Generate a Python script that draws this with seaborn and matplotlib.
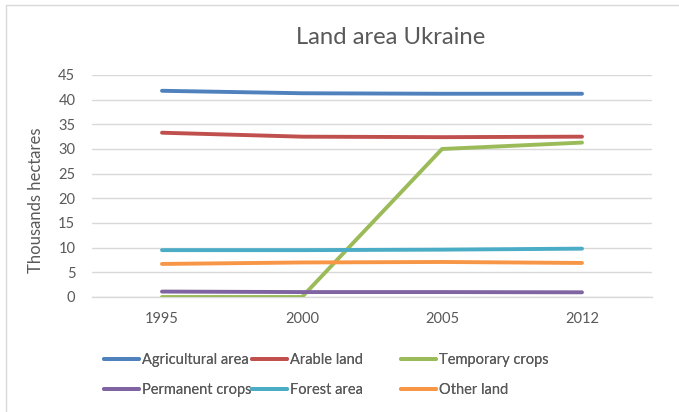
import matplotlib
matplotlib.use("Agg")
import matplotlib.pyplot as plt
import seaborn as sns
import pandas as pd
from matplotlib.lines import Line2D

years = ["1995", "2000", "2005", "2012"]
agricultural_area = [41.8, 41.3, 41.2, 41.2]
arable_land = [33.3, 32.5, 32.4, 32.5]
temporary_crops = [0.0, 0.0, 30.0, 31.3]
permanent_crops = [1.1, 1.0, 1.0, 0.95]
forest_area = [9.5, 9.5, 9.6, 9.8]
other_land = [6.7, 7.0, 7.1, 6.9]

series_names = ["Agricultural area", "Arable land", "Temporary crops",
                "Permanent crops", "Forest area", "Other land"]
series_values = [agricultural_area, arable_land, temporary_crops,
                 permanent_crops, forest_area, other_land]
colors = ["#4F81BD", "#C0504D", "#9BBB59", "#8064A2", "#4BACC6", "#F79646"]

rows = []
for name, vals in zip(series_names, series_values):
    for i, (yr, v) in enumerate(zip(years, vals)):
        rows.append({"Year": yr, "pos": i, "Series": name, "Value": v})
df = pd.DataFrame(rows)

sns.set_style("white")
plt.rcParams["font.family"] = ["Lato", "DejaVu Sans"]
text_color = "#595959"

fig = plt.figure(figsize=(6.79, 4.12), dpi=100)
ax = fig.add_axes([92 / 679, 1 - 297 / 412, 560 / 679, 222 / 412])

sns.lineplot(data=df, x="pos", y="Value", hue="Series", hue_order=series_names,
             palette=colors, linewidth=2.8, legend=False, ax=ax,
             solid_capstyle="round", zorder=3)

ax.set_xlim(-0.5, 3.5)
ax.set_ylim(0, 45)
ax.set_yticks(range(0, 46, 5))
ax.set_xticks(range(len(years)))
ax.set_xticklabels(years)
ax.grid(axis="y", color="#D9D9D9", linewidth=1.0)
ax.grid(axis="x", visible=False)
for side in ["top", "right", "left"]:
    ax.spines[side].set_visible(False)
ax.spines["bottom"].set_color("#D9D9D9")
ax.spines["bottom"].set_linewidth(1.0)
ax.tick_params(axis="both", length=0, labelsize=10.5, labelcolor=text_color)
ax.tick_params(axis="y", pad=12)
ax.tick_params(axis="x", pad=11)
ax.set_xlabel("")
ax.set_ylabel("")

fig.text(36 / 679, 1 - 200 / 412, "Thousands hectares", rotation=90,
         ha="center", va="center", fontsize=12, color=text_color)

fig.text(391 / 679, 1 - 37 / 412, "Land area Ukraine", ha="center", va="center",
         fontsize=17.2, color=text_color)

# legend: three equal-width columns, two rows, filled row by row
handles = [Line2D([0], [0], color=c, linewidth=2.8, solid_capstyle="round")
           for c in colors]
col_x = [104, 252, 401]
for col in range(3):
    idx = [col, col + 3]
    leg = fig.legend([handles[i] for i in idx], [series_names[i] for i in idx],
                     ncol=1, loc="center left",
                     bbox_to_anchor=(col_x[col] / 679, 1 - 375 / 412),
                     frameon=False, fontsize=10.5, labelcolor=text_color,
                     handlelength=2.4, handletextpad=0.2,
                     labelspacing=1.1, borderpad=0, borderaxespad=0)
    fig.add_artist(leg)

# chart outer border
fig.add_artist(Line2D([6 / 679, 1], [1 - 5 / 412, 1 - 5 / 412],
                      color="#D9D9D9", linewidth=1.0))
fig.add_artist(Line2D([6 / 679, 6 / 679], [0, 1 - 5 / 412],
                      color="#D9D9D9", linewidth=1.0))

fig.savefig("out.png", dpi=100)
